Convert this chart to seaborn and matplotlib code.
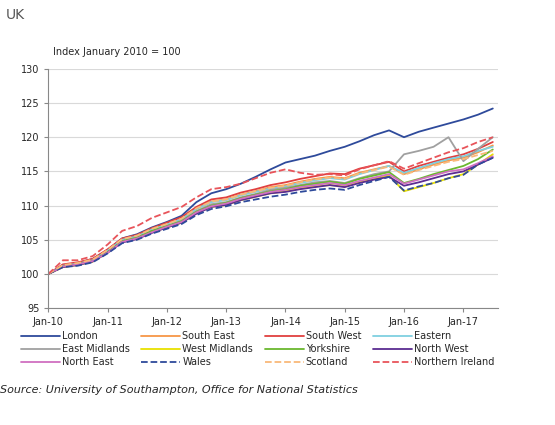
import pandas as pd
import matplotlib.pyplot as plt
import matplotlib.dates as mdates
import seaborn as sns

# quarterly readings Jan-10 .. Jul-17
dates = pd.date_range('2010-01-01', periods=31, freq='QS')

london = [100, 101.3, 101.6, 102.2, 103.5, 105.2, 105.8, 106.8, 107.6, 108.5, 110.5, 111.8,
          112.4, 113.2, 114.2, 115.3, 116.3, 116.8, 117.3, 118.0, 118.6, 119.4, 120.3, 121.0,
          120.0, 120.8, 121.4, 122.0, 122.6, 123.3, 124.2]
south_east = [100, 101.2, 101.5, 102.1, 103.4, 105.0, 105.5, 106.5, 107.2, 108.0, 109.6, 110.6,
              110.9, 111.6, 112.1, 112.7, 113.0, 113.5, 113.9, 114.2, 114.0, 114.8, 115.3, 115.8,
              114.6, 115.3, 116.0, 116.6, 117.0, 117.8, 118.8]
south_west = [100, 101.4, 101.7, 102.2, 103.6, 105.2, 105.7, 106.7, 107.5, 108.3, 109.8, 110.9,
              111.2, 111.9, 112.4, 113.0, 113.4, 113.9, 114.3, 114.7, 114.6, 115.4, 115.9, 116.4,
              115.0, 115.8, 116.4, 117.0, 117.5, 118.3, 119.3]
eastern = [100, 101.2, 101.5, 102.0, 103.4, 105.0, 105.5, 106.5, 107.2, 108.0, 109.5, 110.5,
           110.8, 111.5, 112.0, 112.5, 112.8, 113.3, 113.7, 114.0, 113.8, 114.6, 115.2, 115.8,
           114.8, 115.5, 116.2, 116.8, 117.2, 118.0, 118.6]
east_midlands = [100, 101.1, 101.4, 101.9, 103.2, 104.8, 105.3, 106.3, 107.0, 107.8, 109.2, 110.2,
                 110.5, 111.2, 111.7, 112.3, 112.6, 113.0, 113.4, 113.6, 113.3, 114.0, 114.6, 115.0,
                 117.5, 118.0, 118.6, 120.0, 116.5, 118.3, 120.0]
west_midlands = [100, 101.0, 101.3, 101.8, 103.1, 104.7, 105.2, 106.1, 106.8, 107.5, 108.9, 109.8,
                 110.1, 110.8, 111.3, 111.8, 112.1, 112.5, 112.8, 113.0, 112.8, 113.4, 113.9, 114.4,
                 112.1, 112.7, 113.3, 114.0, 114.6, 116.0, 117.5]
yorkshire = [100, 101.1, 101.4, 101.9, 103.2, 104.8, 105.3, 106.3, 107.0, 107.7, 109.1, 110.0,
             110.4, 111.1, 111.6, 112.1, 112.4, 112.9, 113.2, 113.5, 113.2, 113.9, 114.4, 114.9,
             113.3, 113.9, 114.6, 115.2, 115.8, 116.8, 118.2]
north_west = [100, 101.0, 101.3, 101.8, 103.1, 104.6, 105.1, 106.0, 106.8, 107.5, 108.8, 109.8,
              110.1, 110.8, 111.3, 111.8, 112.0, 112.4, 112.7, 113.0, 112.7, 113.3, 113.8, 114.2,
              112.9, 113.4, 114.0, 114.6, 115.0, 116.0, 117.0]
north_east = [100, 101.1, 101.4, 101.9, 103.1, 104.7, 105.2, 106.1, 106.9, 107.6, 109.0, 109.9,
              110.3, 111.0, 111.5, 112.0, 112.3, 112.7, 113.0, 113.3, 113.0, 113.6, 114.1, 114.6,
              113.2, 113.8, 114.4, 115.0, 115.3, 116.2, 117.2]
wales = [100, 101.0, 101.2, 101.7, 103.0, 104.5, 105.0, 105.9, 106.6, 107.3, 108.6, 109.5,
         109.9, 110.5, 110.9, 111.3, 111.6, 112.0, 112.3, 112.5, 112.3, 113.0, 113.6, 114.2,
         112.2, 112.8, 113.3, 114.0, 114.5, 116.0, 117.0]
scotland = [100, 101.3, 101.6, 102.1, 103.5, 105.1, 105.6, 106.6, 107.3, 108.1, 109.6, 110.6,
            110.9, 111.6, 112.1, 112.6, 112.9, 113.4, 113.8, 114.1, 113.9, 114.7, 115.2, 115.7,
            114.5, 115.2, 115.8, 116.4, 116.8, 117.4, 118.0]
northern_ireland = [100, 102.0, 102.0, 102.6, 104.3, 106.3, 107.0, 108.2, 109.0, 109.8, 111.2, 112.4,
                    112.7, 113.2, 114.0, 114.8, 115.3, 114.8, 114.5, 114.6, 114.4, 115.3, 115.9, 116.5,
                    115.4, 116.2, 117.0, 117.8, 118.4, 119.3, 120.0]

series = [
    ('London', london, '#2E4A9B', '-'),
    ('South East', south_east, '#F79646', '-'),
    ('South West', south_west, '#E0403F', '-'),
    ('Eastern', eastern, '#7FD0E0', '-'),
    ('East Midlands', east_midlands, '#A0A0A0', '-'),
    ('West Midlands', west_midlands, '#E8E000', '-'),
    ('Yorkshire', yorkshire, '#6AB82E', '-'),
    ('North West', north_west, '#5B2C91', '-'),
    ('North East', north_east, '#D070C0', '-'),
    ('Wales', wales, '#2E4A9B', '--'),
    ('Scotland', scotland, '#F9B97A', '--'),
    ('Northern Ireland', northern_ireland, '#E8545A', '--'),
]

sns.set_style('white')
fig = plt.figure(figsize=(5.55, 4.25), dpi=100)
ax = fig.add_axes([0.087, 0.275, 0.81, 0.563])

for name, vals, col, ls in series:
    sns.lineplot(x=dates, y=vals, ax=ax, color=col, linestyle=ls, linewidth=1.3, label=name)

ax.set_ylim(95, 130)
ax.set_yticks(range(95, 131, 5))
ax.set_xlim(pd.Timestamp('2010-01-01'), pd.Timestamp('2017-08-01'))
ax.xaxis.set_major_locator(mdates.YearLocator())
ax.xaxis.set_major_formatter(mdates.DateFormatter('Jan-%y'))
ax.yaxis.grid(True, color='#D9D9D9', linewidth=0.8)
ax.set_axisbelow(True)
for s in ['top', 'right']:
    ax.spines[s].set_visible(False)
for s in ['left', 'bottom']:
    ax.spines[s].set_color('#888888')
ax.tick_params(labelsize=7, length=3, color='#888888', left=True, bottom=True)
ax.set_xlabel('')
ax.set_ylabel('')

# legend reads row by row in the reference
handles, labels = ax.get_legend_handles_labels()
order = [i for c in range(4) for i in (c, c + 4, c + 8)]
ax.legend([handles[i] for i in order], [labels[i] for i in order],
          ncol=4, loc='upper left', bbox_to_anchor=(-0.08, -0.06), frameon=False,
          fontsize=7, handlelength=4, columnspacing=1.2, labelspacing=0.3, handletextpad=0.2)

fig.text(0.01, 0.955, 'UK', fontsize=10, color='#555555')
fig.text(0.095, 0.87, 'Index January 2010 = 100', fontsize=7)
fig.text(0.0, 0.075, 'Source: University of Southampton, Office for National Statistics',
         fontsize=8, style='italic')

fig.savefig('out.png', dpi=100)
